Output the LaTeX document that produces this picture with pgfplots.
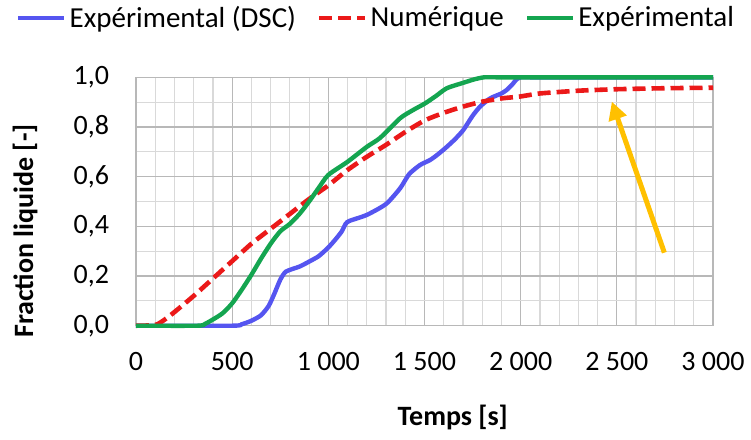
\documentclass[border=0pt]{standalone}
\usepackage{pgfplots}
\pgfplotsset{compat=1.18}
\usepackage{fontspec}
\setmainfont{Carlito}
\usetikzlibrary{calc,arrows.meta}
\definecolor{cblue}{RGB}{85,85,240}
\definecolor{cred}{RGB}{235,25,25}
\definecolor{cgreen}{RGB}{20,165,80}
\definecolor{corange}{RGB}{255,192,0}
\begin{document}
\begin{tikzpicture}[font=\fontsize{14}{17}\selectfont]
\begin{axis}[
  scale only axis, width=288.5pt, height=124.2pt,
  xmin=0, xmax=3000, ymin=0, ymax=1,
  clip=false,
  xtick={0,500,1000,1500,2000,2500,3000},
  ytick={0,0.2,0.4,0.6,0.8,1},
  minor x tick num=4, minor y tick num=1,
  grid=both,
  major grid style={draw=black!28, line width=0.6pt},
  minor grid style={draw=black!15, line width=0.6pt},
  axis line style={draw=black!28, line width=0.6pt},
  major tick length=0pt, minor tick length=0pt,
  tick style={draw=none},
  every tick label/.append style={font=\fontsize{14}{17}\selectfont},
  /pgf/number format/assume math mode=true,
  scaled x ticks=false,
  xticklabel style={/pgf/number format/1000 sep={\ }, yshift=-10pt},
  yticklabel style={/pgf/number format/.cd, fixed, fixed zerofill, precision=1, use comma, /tikz/.cd, xshift=-10pt},
  xlabel={\textbf{Temps [s]}},
  xlabel style={at={(axis description cs:0.549,-0.37)}, anchor=center},
  ylabel={\textbf{Fraction liquide [-]}},
  ylabel style={at={(axis description cs:-0.1924,0.381)}, anchor=center},
  legend style={at={(axis description cs:0.417,1.239)}, anchor=center, draw=none, fill=none,
    legend columns=3, font=\fontsize{14.5}{17}\selectfont,
    /tikz/every even column/.append style={column sep=9pt},
    nodes={inner sep=1.5pt}},
  legend cell align=left,
  legend image code/.code={\draw[#1] (0pt,0pt) -- (23pt,0pt);},
]
\coordinate (SW) at (rel axis cs:0,0);
\coordinate (NE) at (rel axis cs:1,1);
\addplot[cblue, line width=2.2pt, smooth, tension=0.4] coordinates {
(0,0) (500,0) (550,0.006) (600,0.02) (650,0.042) (690,0.08) (720,0.13) (750,0.185) (780,0.218) (850,0.238) (900,0.258) (950,0.28) (1000,0.315) (1040,0.35) (1070,0.38) (1090,0.41) (1110,0.422) (1200,0.446) (1300,0.49) (1373,0.553) (1420,0.61) (1477,0.647) (1529,0.667) (1570,0.69) (1616,0.72) (1660,0.752) (1702,0.788) (1750,0.845) (1789,0.882) (1841,0.915) (1900,0.935) (1927,0.949) (1955,0.97) (1980,0.993) (2000,1.0) (2050,1.0) (2200,1.0) (3000,1.0)
};
\addlegendentry{Expérimental (DSC)}
\addplot[cred, line width=2.3pt, dash pattern=on 6.5pt off 3pt, smooth, tension=0.4] coordinates {
(0,0) (100,0.003) (150,0.025) (200,0.055) (300,0.12) (400,0.19) (500,0.26) (600,0.33) (700,0.39) (800,0.45) (900,0.51) (1000,0.565) (1100,0.627) (1200,0.68) (1300,0.728) (1400,0.78) (1500,0.826) (1600,0.857) (1700,0.882) (1800,0.902) (1900,0.915) (2000,0.923) (2100,0.935) (2300,0.946) (2500,0.952) (2750,0.956) (3000,0.958)
};
\addlegendentry{Numérique}
\addplot[cgreen, line width=2.2pt, smooth, tension=0.4] coordinates {
(0,0) (320,0) (360,0.008) (400,0.025) (450,0.05) (500,0.09) (550,0.145) (600,0.205) (650,0.27) (700,0.33) (750,0.38) (800,0.41) (850,0.45) (900,0.50) (950,0.555) (1000,0.607) (1100,0.66) (1200,0.72) (1269,0.756) (1373,0.835) (1440,0.868) (1503,0.895) (1560,0.925) (1616,0.956) (1702,0.978) (1760,0.992) (1810,1) (1870,1) (2000,1) (3000,1)
};
\addlegendentry{Expérimental}
\draw[corange, line width=2.5pt, -{Triangle[length=9pt,width=9pt]}] (axis cs:2747,0.294) -- (axis cs:2474,0.902);
\end{axis}
\pgfresetboundingbox
\path[use as bounding box] ($(SW)+(-68pt,-56.65pt)$) rectangle ($(NE)+(19pt,38.65pt)$);
\end{tikzpicture}
\end{document}
